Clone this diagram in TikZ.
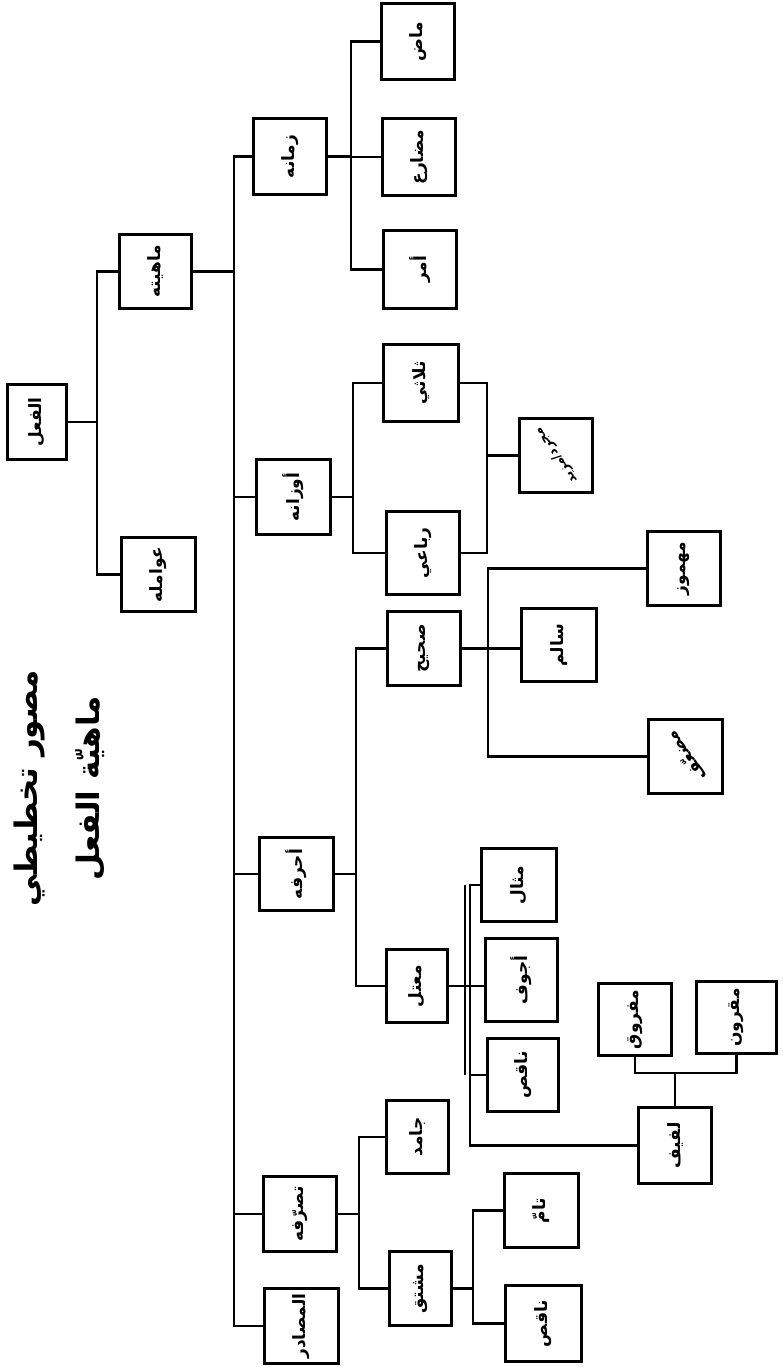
\documentclass[tikz,border=0pt]{standalone}
\usepackage{fontspec}
\usepackage{graphicx}
\newfontfamily\arabicfont[Script=Arabic]{DejaVu Sans}
\TeXXeTstate=1
\newcommand{\ar}[1]{{\arabicfont\beginR #1\endR}}
\newcommand{\vlab}[1]{\rotatebox{90}{\ar{#1}}}
\newcommand{\dlab}[1]{\rotatebox{125}{\ar{#1}}}
\begin{document}
\begin{tikzpicture}[x=1pt,y=-1pt,
  box/.style={draw, line width=3.2pt, inner sep=0pt, fill=white,
    font=\fontsize{17}{20}\selectfont\bfseries},
  sz/.style 2 args={minimum width=#1pt, minimum height=#2pt},
  conn/.style={line width=2.7pt, line join=miter},
  thin conn/.style={line width=1.4pt}]
\useasboundingbox (0,0) rectangle (782,1367);
\fill[white] (0,0) rectangle (782,1367);

% title
\node[font=\fontsize{31}{62}\selectfont\bfseries, rotate=90, align=center] (title) at (60,788)
  {\ar{مصور تخطيطي}\\\ar{ماهيّة الفعل}};

% level 0-1
\node[box, sz={59}{75}] (fil) at (37,422) {\vlab{الفعل}};
\node[box, sz={72}{74}] (mahiyya) at (155.5,271.5) {\vlab{ماهيته}};
\node[box, sz={74}{74}] (awamil) at (158.5,574.5) {\vlab{عوامله}};

% level 2
\node[box, sz={73}{76}] (zaman) at (290,156.5) {\vlab{زمانه}};
\node[box, sz={74}{75}] (awzan) at (293.5,497) {\vlab{أوزانه}};
\node[box, sz={74}{73}] (ahruf) at (296.5,874) {\vlab{أحرفه}};
\node[box, sz={73}{75}] (tasarruf) at (300,1214) {\vlab{تصرّفه}};
\node[box, sz={74}{75}] (masadir) at (301.5,1326) {\vlab{المصادر}};

% level 3
\node[box, sz={73}{76}] (madi) at (418,41.5) {\vlab{ماض}};
\node[box, sz={73}{77}] (mudari) at (419,157) {\vlab{مضارع}};
\node[box, sz={73}{78}] (amr) at (420,269.5) {\vlab{أمر}};
\node[box, sz={75}{77}] (thulathi) at (421,383) {\vlab{ثلاثي}};
\node[box, sz={73}{83}] (rubai) at (423,553) {\vlab{رباعي}};
\node[box, sz={73}{74}] (sahih) at (424,648.5) {\vlab{صحيح}};
\node[box, sz={61}{73}] (mutall) at (417,986) {\vlab{معتل}};
\node[box, sz={62}{73}] (jamid) at (417.5,1137) {\vlab{جامد}};
\node[box, sz={62}{74}] (mushtaq) at (420.5,1288.5) {\vlab{مشتق}};

% level 4
\node[box, sz={73}{74}, font=\fontsize{13}{15}\selectfont\bfseries] (mujarrad) at (556,455.5) {\dlab{مجرد/مزيد}};
\node[box, sz={75}{73}] (salim) at (559,645) {\vlab{سالم}};
\node[box, sz={73}{74}] (mahmuz) at (684,568.5) {\vlab{مهموز}};
\node[box, sz={74}{74}] (mudaaf) at (685.5,756.5) {\dlab{مضعّف}};
\node[box, sz={75}{73}] (mithal) at (519,885) {\vlab{مثال}};
\node[box, sz={72}{83}] (ajwaf) at (521.5,980) {\vlab{أجوف}};
\node[box, sz={71}{73}] (naqis) at (523,1075) {\vlab{ناقص}};
\node[box, sz={73}{76}] (lafif) at (675,1145.5) {\vlab{لفيف}};
\node[box, sz={73}{72}] (mafruq) at (635,1019.5) {\vlab{مفروق}};
\node[box, sz={80}{72}] (maqrun) at (736.5,1017.5) {\vlab{مقرون}};
\node[box, sz={74}{74}] (tamm) at (541.5,1210.5) {\vlab{تامّ}};
\node[box, sz={76}{76}] (naqistwo) at (543.5,1323.5) {\vlab{ناقص}};

% junction columns
\coordinate (r) at (97,0);
\coordinate (t) at (234,0);
\coordinate (z) at (351,0);
\coordinate (w) at (353,0);
\coordinate (b) at (487,0);
\coordinate (h) at (356,0);
\coordinate (s) at (488,0);
\coordinate (m) at (470,0);
\coordinate (mm) at (465,0);
\coordinate (u) at (359,0);
\coordinate (v) at (473,0);

% root
\draw[conn] (fil.east) -- (r |- fil);
\draw[conn] (mahiyya.west) -| (r |- awamil) -- (awamil.west);

% trunk
\draw[conn] (mahiyya.east) -- (t |- mahiyya);
\draw[conn] (zaman.west) -| (t |- masadir) -- (masadir.west);
\draw[conn] (t |- awzan) -- (awzan.west);
\draw[conn] (t |- ahruf) -- (ahruf.west);
\draw[conn] (t |- tasarruf) -- (tasarruf.west);

% zaman
\draw[conn] (zaman.east) -- (z |- zaman);
\draw[conn] (madi.west) -| (z |- amr) -- (amr.west);
\draw[conn] (z |- mudari) -- (mudari.west);

% awzan
\draw[conn] (awzan.east) -- (w |- awzan);
\draw[conn] (thulathi.west) -| (w |- rubai) -- (rubai.west);
\draw[conn] (thulathi.east) -| (b |- rubai) -- (rubai.east);
\draw[conn] (b |- mujarrad) -- (mujarrad.west);

% ahruf
\draw[conn] (ahruf.east) -- (h |- ahruf);
\draw[conn] (sahih.west) -| (h |- mutall) -- (mutall.west);

% sahih
\draw[conn] (sahih.east) -- (sahih.east -| salim.west);
\draw[conn] (mahmuz.west) -| (s |- mudaaf) -- (mudaaf.west);

% mutall
\draw[conn] (mutall.east) -- (mutall.east -| ajwaf.west);
\draw[conn] (mithal.west) -| (m |- lafif) -- (lafif.west);
\draw[thin conn] (mm |- mithal) -- (mm |- naqis);
\draw[conn] (m |- naqis) -- (naqis.west);

% lafif
\path (lafif.north) ++(0,-33) coordinate (lj);
\draw[conn] (lafif.north) -- (lj);
\draw[conn] (mafruq.south) |- (lj) -| (maqrun.south);

% tasarruf
\draw[conn] (tasarruf.east) -- (u |- tasarruf);
\draw[conn] (jamid.west) -| (u |- mushtaq) -- (mushtaq.west);

% mushtaq
\draw[conn] (mushtaq.east) -- (v |- mushtaq);
\draw[conn] (tamm.west) -| (v |- naqistwo) -- (naqistwo.west);
\end{tikzpicture}
\end{document}
